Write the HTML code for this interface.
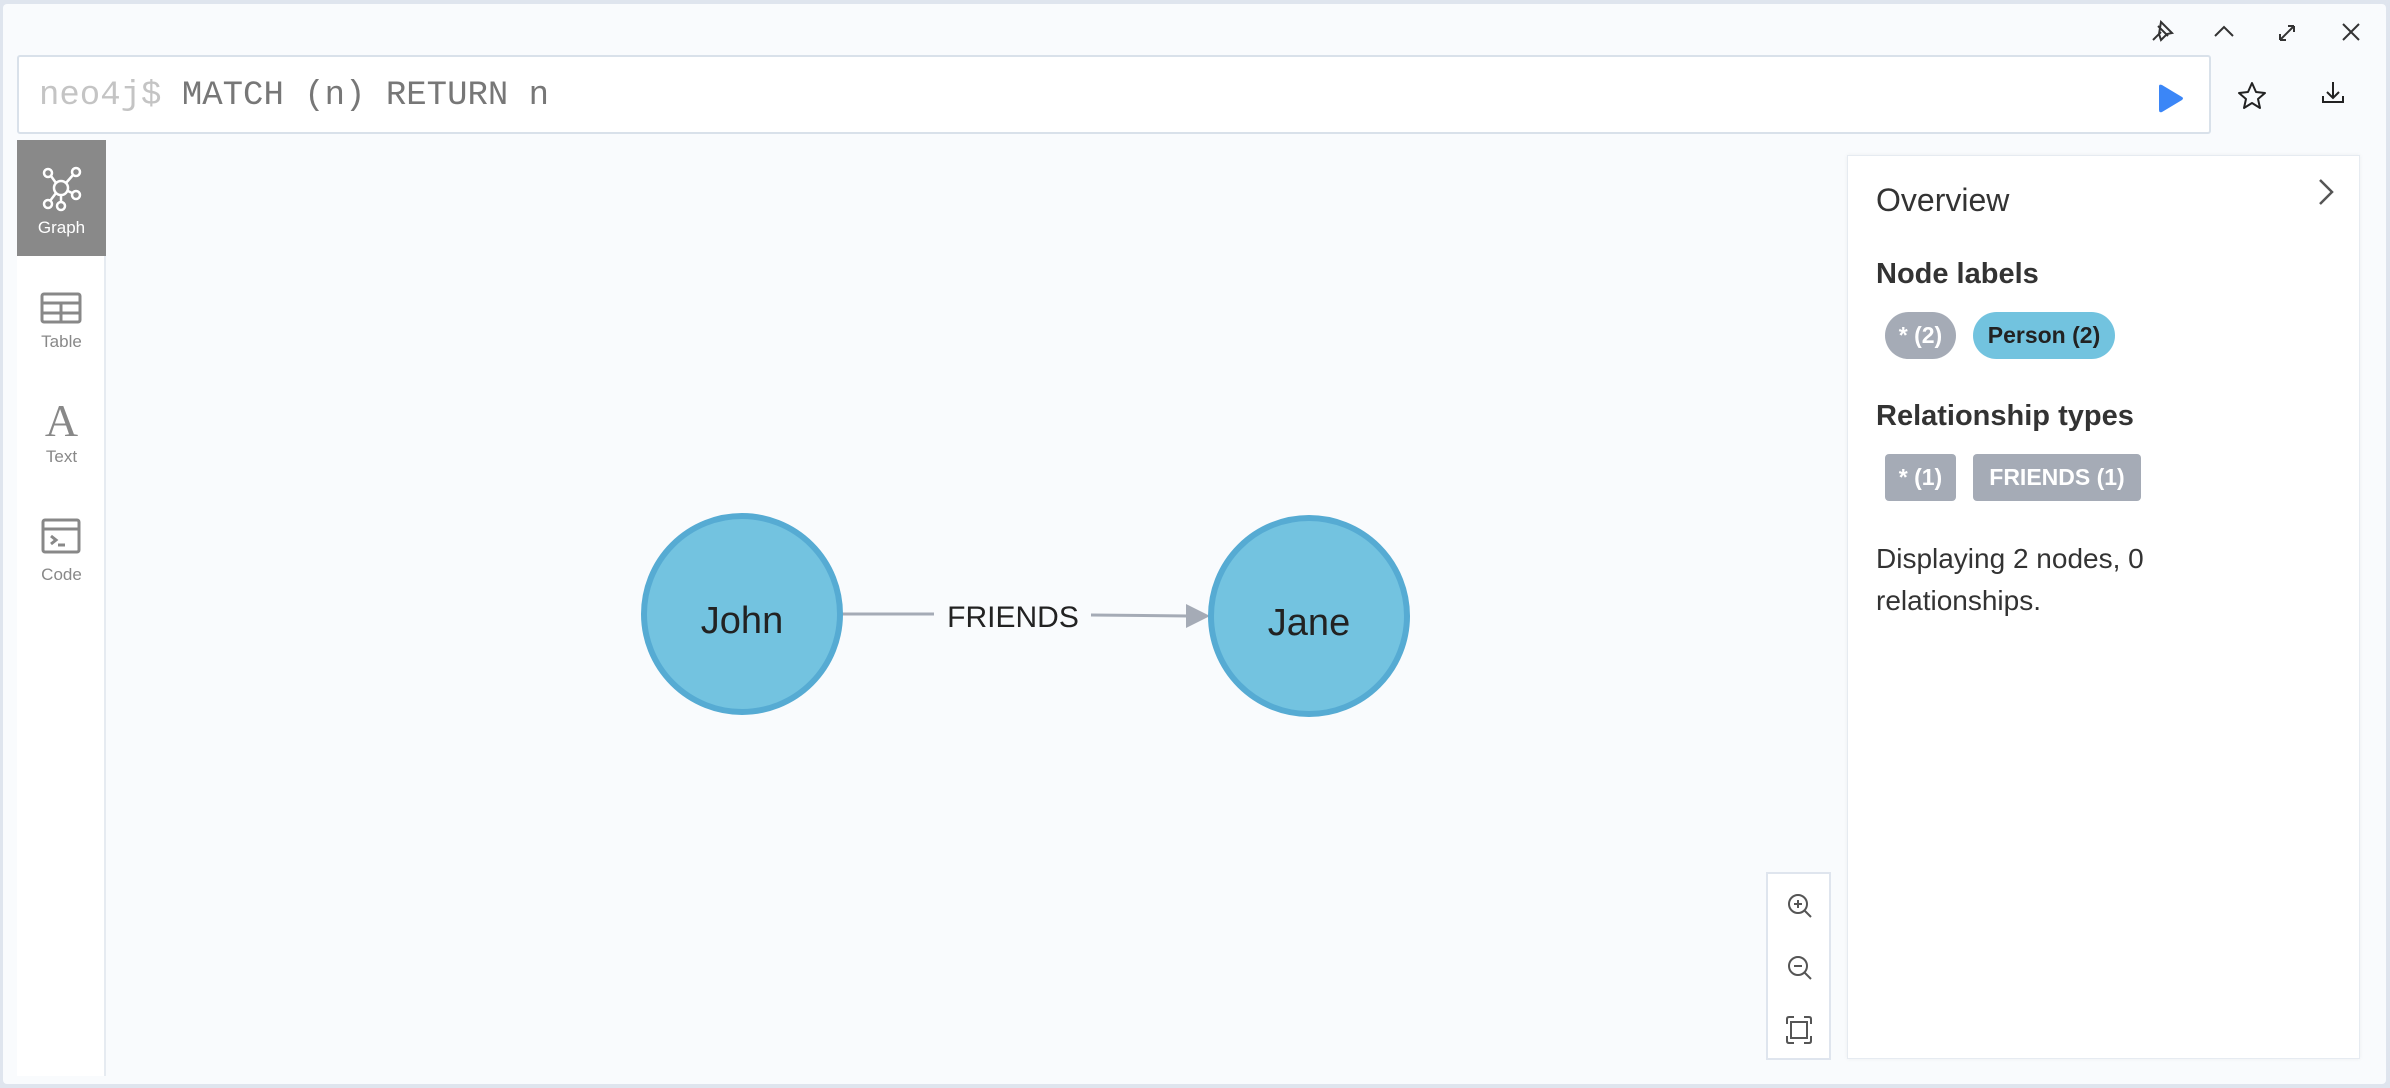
<!DOCTYPE html>
<html><head><meta charset="utf-8"><style>
*{margin:0;padding:0;box-sizing:border-box}
body{width:2390px;height:1088px;background:#dfe5ee;position:relative;overflow:hidden;font-family:"Liberation Sans",sans-serif}
.abs{position:absolute}
#card{left:3px;top:4px;width:2383px;height:1080px;background:#f9fbfd;border-radius:4px}
#editor{left:17px;top:55px;width:2194px;height:79px;background:#fff;border:2px solid #d9e1ea;border-radius:3px}
#editor span{position:absolute;left:20px;top:20px;font-family:"Liberation Mono",monospace;font-size:34px;color:#777}
#side{left:17px;top:140px;width:89px;height:936px;background:#fff;border-right:2px solid #e6ebf1}
.tab{position:absolute;left:0;width:89px;text-align:center;font-size:17px;color:#888}
#panel{left:1847px;top:155px;width:513px;height:904px;background:#fff;border:1px solid #e6ebf1;box-shadow:0 0 4px rgba(0,0,0,.05)}
.pill{position:absolute;height:47px;line-height:47px;font-size:23px;font-weight:bold;text-align:center;color:#fff;background:#a5abb6}
h2{position:absolute;left:28px;font-size:29px;font-weight:bold;color:#333}
#zoom{left:1766px;top:872px;width:65px;height:188px;background:#fff;border:2px solid #dfe5ee}
</style></head><body>
<div id="card" class="abs"></div>
<svg class="abs" style="left:0;top:0" width="2390" height="1088">
 <g fill="none" stroke="#333" stroke-width="2">
  <path d="M2153 40 L2161 32 M2158 26 L2168 36 M2161 22 L2172 33 L2167 34 L2161 40 L2159 34 Z"/>
  <path d="M2215 36 L2224 27 L2233 36"/>
  <path d="M2280 40 L2294 26 M2280 40 L2280 34 M2280 40 L2286 40 M2294 26 L2288 26 M2294 26 L2294 32"/>
  <path d="M2343 24 L2359 40 M2359 24 L2343 40"/>
 </g>
</svg>
<div id="editor" class="abs"><span><span style="position:static;color:#c4c4c4">neo4j$</span> MATCH (n) RETURN n</span></div>
<svg class="abs" style="left:0;top:0" width="2390" height="1088">
 <path d="M2159 86 L2159 110 Q2159 113 2162 112 L2182 100 Q2184 98 2182 97 L2162 85 Q2159 84 2159 86Z" fill="#3b86f7"/>
 <path d="M2252 83 L2256 92 L2265 93 L2258 99 L2260 108 L2252 103 L2244 108 L2246 99 L2239 93 L2248 92Z" fill="none" stroke="#222" stroke-width="2" stroke-linejoin="round"/>
 <path d="M2333 82 L2333 98 M2327 92 L2333 98 L2339 92 M2323 96 L2323 102 L2343 102 L2343 96" fill="none" stroke="#222" stroke-width="2"/>
</svg>
<div id="side" class="abs">
 <div class="abs" style="left:0;top:0;width:89px;height:116px;background:#898989"></div>
 <svg class="abs" style="left:0;top:0" width="89" height="440">
  <g fill="none" stroke="#fff" stroke-width="2.5">
   <circle cx="44" cy="48" r="7"/><circle cx="31" cy="33" r="4"/><circle cx="59" cy="32" r="4"/><circle cx="59" cy="55" r="4"/><circle cx="31" cy="64" r="4"/><circle cx="44" cy="66" r="4"/>
   <path d="M34 36 L39 43 M56 35 L49 43 M51 51 L55 53 M39 53 L33 61 M44 55 L44 62"/>
  </g>
  <g fill="none" stroke="#888" stroke-width="3">
   <rect x="25" y="154" width="38" height="28" rx="2"/><path d="M25 163 H63 M25 173 H63 M44 163 V182"/>
   <rect x="26" y="380" width="36" height="32" rx="2"/><path d="M26 389 H62 M34 396 L39 400 L34 404 M41 405 H48"/>
  </g>
 </svg>
 <div class="tab" style="top:78px;color:#fff">Graph</div>
 <div class="tab" style="top:192px">Table</div>
 <div class="tab" style="top:254px;font-family:'Liberation Serif',serif;font-size:46px;font-weight:normal;color:#888">A</div>
 <div class="tab" style="top:307px">Text</div>
 <div class="tab" style="top:425px">Code</div>
</div>
<svg class="abs" style="left:0;top:0" width="2390" height="1088">
 <line x1="842" y1="614" x2="934" y2="614" stroke="#a5abb6" stroke-width="3"/>
 <line x1="1091" y1="615" x2="1188" y2="616" stroke="#a5abb6" stroke-width="3"/>
 <path d="M1186 604 L1210 616 L1186 628Z" fill="#a5abb6"/>
 <text x="1013" y="627" text-anchor="middle" font-family="Liberation Sans" font-size="30" fill="#222">FRIENDS</text>
 <circle cx="742" cy="614" r="98" fill="#73c3e0" stroke="#56abd3" stroke-width="6"/>
 <circle cx="1309" cy="616" r="98" fill="#73c3e0" stroke="#56abd3" stroke-width="6"/>
 <text x="742" y="633" text-anchor="middle" font-family="Liberation Sans" font-size="38" fill="#222">John</text>
 <text x="1309" y="635" text-anchor="middle" font-family="Liberation Sans" font-size="38" fill="#222">Jane</text>
</svg>
<div id="zoom" class="abs">
 <svg width="62" height="184">
  <g fill="none" stroke="#555" stroke-width="2">
   <circle cx="30" cy="30" r="9"/><path d="M36 36 L43 43 M26 30 H34 M30 26 V34"/>
   <circle cx="30" cy="92" r="9"/><path d="M36 98 L43 105 M26 92 H34"/>
   <rect x="23" y="148" width="16" height="16"/><path d="M19 150 V145 Q19 143 21 143 H26 M36 143 H41 Q43 143 43 145 V150 M43 162 V167 Q43 169 41 169 H36 M26 169 H21 Q19 169 19 167 V162"/>
  </g>
 </svg>
</div>
<div id="panel" class="abs">
 <div class="abs" style="left:28px;top:26px;font-size:32px;color:#333">Overview</div>
 <svg class="abs" style="left:466px;top:18px" width="24" height="40"><path d="M6 6 L18 18 L6 30" fill="none" stroke="#555" stroke-width="2.5"/></svg>
 <h2 style="top:102px">Node labels</h2>
 <div class="pill" style="left:37px;top:156px;width:71px;border-radius:24px">* (2)</div>
 <div class="pill" style="left:125px;top:156px;width:142px;border-radius:24px;background:#72c3df;color:#222">Person (2)</div>
 <h2 style="top:244px">Relationship types</h2>
 <div class="pill" style="left:37px;top:298px;width:71px;border-radius:4px">* (1)</div>
 <div class="pill" style="left:125px;top:298px;width:168px;border-radius:4px">FRIENDS (1)</div>
 <div class="abs" style="left:28px;top:382px;font-size:28px;line-height:42px;color:#333">Displaying 2 nodes, 0<br>relationships.</div>
</div>
</body></html>
